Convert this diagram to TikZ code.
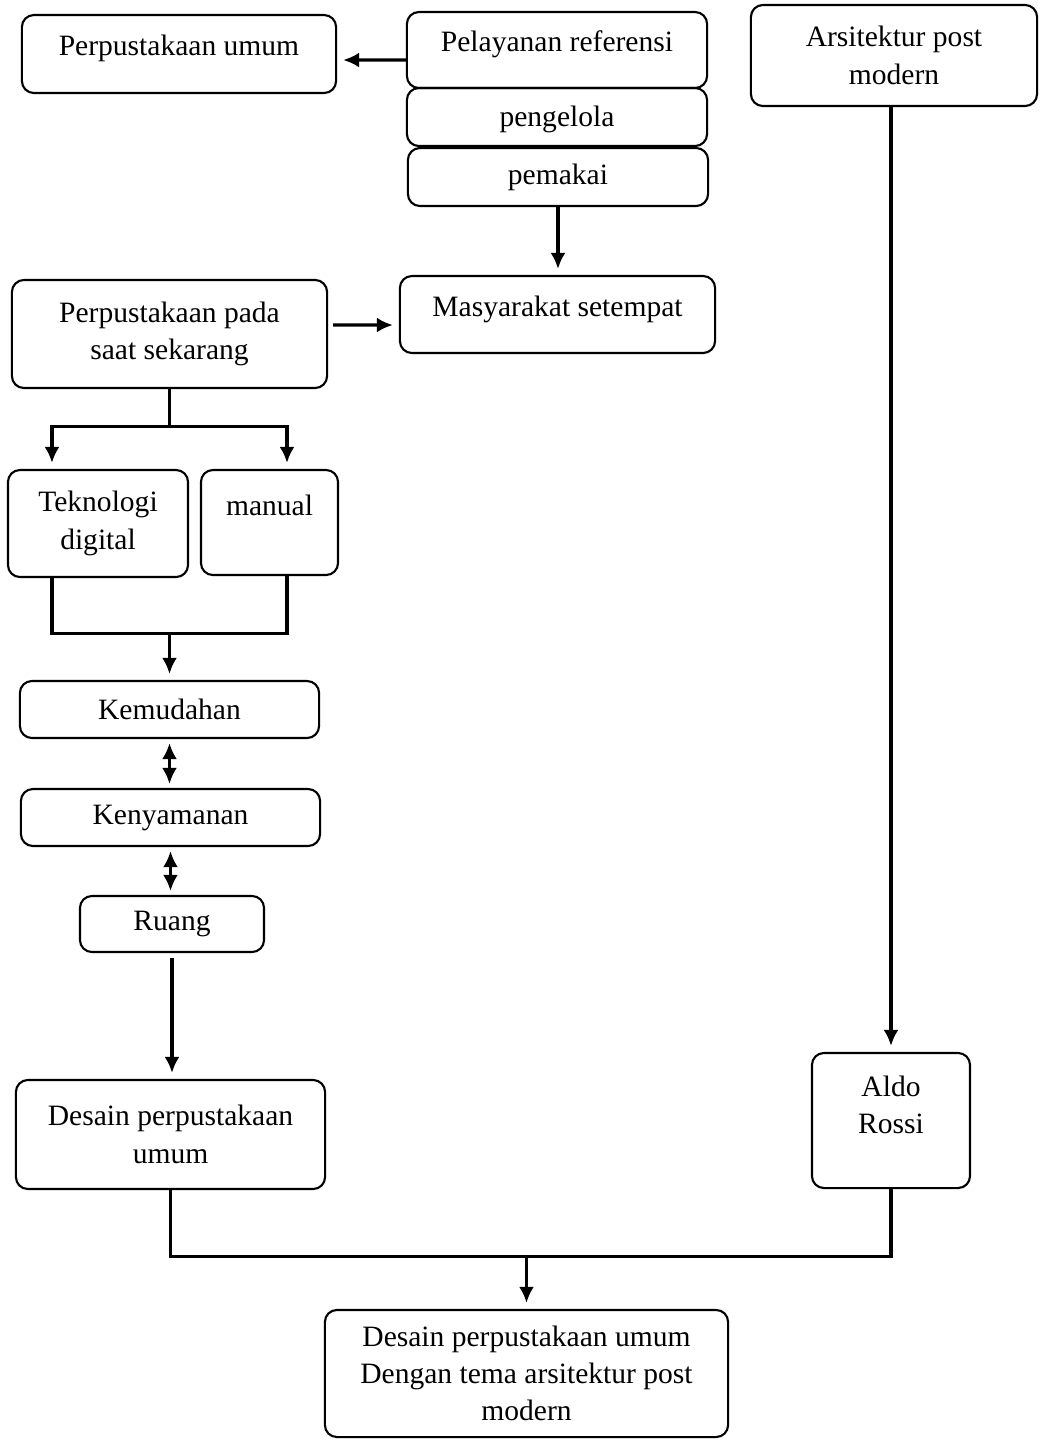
\documentclass[tikz,border=0pt]{standalone}
\usepackage{fontspec}
\setmainfont{Liberation Serif}
\usetikzlibrary{arrows.meta}
\begin{document}
\begin{tikzpicture}[x=0.01cm, y=-0.01cm,
  font=\fontsize{8.4}{10.6}\selectfont,
  >={Latex[length=0.16cm, width=0.15cm]},
  box/.style={draw, rounded corners=0.12cm, line width=0.6pt, align=center, inner sep=0pt},
  lift/.style={text depth=#1},
  wire/.style={line width=0.9pt},
  link/.style={wire, ->, shorten >=0.06cm},
  link2/.style={wire, <->, shorten >=0.04cm, shorten <=0.04cm}]
\useasboundingbox (0,0) rectangle (1040,1441);

% top row
\node[box, minimum width=3.14cm, minimum height=0.78cm, lift=0.17cm] (pu) at (179,54) {Perpustakaan umum};
\node[box, minimum width=3.00cm, minimum height=0.76cm, lift=0.17cm] (pr) at (557,50) {Pelayanan referensi};
\node[box, minimum width=3.00cm, minimum height=0.58cm, lift=0.02cm] (pg) at (557,117) {pengelola};
\node[box, minimum width=3.00cm, minimum height=0.58cm] (pm) at (558,177) {pemakai};
\node[box, minimum width=2.86cm, minimum height=1.01cm] (apm) at (894,55.5) {Arsitektur post\\modern};
\draw[link] ([yshift=-0.1cm]pr.west) -- ([yshift=-0.06cm]pu.east);

% masyarakat
\node[box, minimum width=3.15cm, minimum height=0.77cm, lift=0.17cm] (ms) at (557.5,314.5) {Masyarakat setempat};
\draw[link] (pm.south) -- (pm.south |- ms.north);

% perpustakaan sekarang
\node[box, minimum width=3.15cm, minimum height=1.08cm] (pps) at (169.5,334) {Perpustakaan pada\\saat sekarang};
\draw[link, shorten <=0.05cm] ([yshift=0.09cm]pps.east) -- ([yshift=-0.105cm]ms.west);

% teknologi / manual
\node[box, minimum width=1.80cm, minimum height=1.07cm] (td) at (98,523.5) {Teknologi\\digital};
\node[box, minimum width=1.37cm, minimum height=1.05cm, lift=0.34cm] (mn) at (269.5,522.5) {manual};
\draw[wire] (pps.south) -- ++(0,37) coordinate (split);
\draw[link] (split) -| ([xshift=-0.46cm]td.north);
\draw[link] (split) -| ([xshift=0.175cm]mn.north);

% kemudahan - kenyamanan - ruang
\node[box, minimum width=2.99cm, minimum height=0.57cm] (km) at (169.5,709.5) {Kemudahan};
\node[box, minimum width=2.99cm, minimum height=0.57cm] (ky) at (170.5,817.5) {Kenyamanan};
\node[box, minimum width=1.84cm, minimum height=0.56cm] (ru) at (172,924) {Ruang};
\draw[wire] ([xshift=-0.46cm]td.south) -- ++(0,55) -| ([xshift=0.175cm]mn.south);
\coordinate (join1) at (169.5,632);
\draw[link] (join1) -- (km.north);
\draw[link2] (km.south) -- (km.south |- ky.north);
\draw[link2] (ky.south) -- (ky.south |- ru.north);

% desain
\node[box, minimum width=3.09cm, minimum height=1.09cm] (dpu) at (170.5,1134.5) {Desain perpustakaan\\umum};
\node[box, minimum width=1.58cm, minimum height=1.35cm, text depth=0.32cm] (aldo) at (891,1120.5) {Aldo\\Rossi};
\draw[link, shorten <=0.05cm] (ru.south) -- (ru.south |- dpu.north);
\draw[link] (aldo.north |- apm.south) -- (aldo.north);

% hasil
\node[box, minimum width=4.03cm, minimum height=1.27cm] (fin) at (526.5,1373.5) {Desain perpustakaan umum\\Dengan tema arsitektur post\\modern};
\draw[wire] (dpu.south) -- ++(0,66) -| (aldo.south);
\coordinate (join2) at (526.5,1255);
\draw[link] (join2) -- (fin.north);
\end{tikzpicture}
\end{document}
